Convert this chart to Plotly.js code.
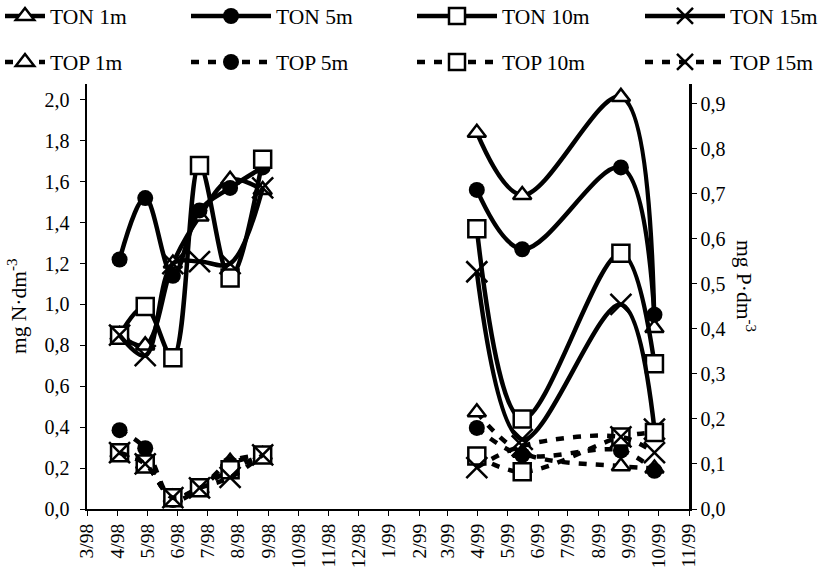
<!DOCTYPE html>
<html>
<head>
<meta charset="utf-8">
<script src="https://cdn.plot.ly/plotly-3.0.1.min.js"></script>
<style>html,body{margin:0;padding:0;background:#fff;}#chart{width:824px;height:568px;}</style>
</head>
<body>
<div id="chart"></div>
<script>
// sampling dates (two campaigns; the null row separates them)
const sampleDates = ['1998-04-03','1998-04-29','1998-05-27','1998-06-23','1998-07-24','1998-08-26',
                     '1998-12-01',
                     '1999-03-31','1999-05-16','1999-08-24','1999-09-27'];

// TON, mg N·dm-3 (left axis)
const ton1m  = [0.85, 0.80, 1.20, 1.43, 1.61, 1.56, null, 1.84, 1.535, 2.015, 0.885];
const ton5m  = [1.22, 1.52, 1.14, 1.46, 1.57, 1.67, null, 1.56, 1.27, 1.67, 0.95];
const ton10m = [0.85, 0.99, 0.74, 1.68, 1.13, 1.71, null, 1.37, 0.44, 1.25, 0.71];
const ton15m = [0.85, 0.75, 1.20, 1.21, 1.20, 1.57, null, 1.16, 0.34, 1.00, 0.39];

// TOP, mg P·dm-3 (right axis)
const top1m  = [0.125, 0.10, 0.025, 0.045, 0.105, 0.12, null, 0.215, 0.125, 0.095, 0.09];
const top5m  = [0.175, 0.135, 0.02, 0.045, 0.10, 0.12, null, 0.18, 0.12, 0.13, 0.085];
const top10m = [0.125, 0.10, 0.025, 0.047, 0.087, 0.12, null, 0.118, 0.083, 0.16, 0.17];
const top15m = [0.125, 0.10, 0.025, 0.047, 0.07, 0.12, null, 0.092, 0.14, 0.16, 0.125];

// month ticks
const tickDates = ['1998-03-01','1998-04-01','1998-05-01','1998-06-01','1998-07-01','1998-08-01','1998-09-01',
  '1998-10-01','1998-11-01','1998-12-01','1999-01-01','1999-02-01','1999-03-01','1999-04-01','1999-05-01',
  '1999-06-01','1999-07-01','1999-08-01','1999-09-01','1999-10-01','1999-11-01'];
const tickLabels = ['3/98','4/98','5/98','6/98','7/98','8/98','9/98','10/98','11/98','12/98','1/99','2/99',
  '3/99','4/99','5/99','6/99','7/99','8/99','9/99','10/99','11/99'];

const FONT = "'Liberation Serif', 'Times New Roman', Times, serif";

const symbols = {
  tri: {symbol: 'triangle-up', size: 16, color: '#fff', line: {color: '#000', width: 2.5}},
  dot: {symbol: 'circle', size: 16, color: '#000', line: {color: '#000', width: 0}},
  sq:  {symbol: 'square', size: 17, color: '#fff', line: {color: '#000', width: 2.5}},
  x:   {symbol: 'x-thin-open', size: 21, color: '#000', line: {color: '#000', width: 2.5}}
};

function tonTrace(name, y, m, lg) {
  return {x: sampleDates, y: y, name: name, type: 'scatter', mode: 'lines+markers',
    line: {color: '#000', width: 4.5, shape: 'spline', smoothing: 1}, marker: m,
    connectgaps: false, yaxis: 'y', legend: lg, cliponaxis: false};
}
function topTrace(name, y, m, lg) {
  return {x: sampleDates, y: y, name: name, type: 'scatter', mode: 'lines+markers',
    line: {color: '#000', width: 4.5, dash: '8px,9px', shape: 'spline', smoothing: 1}, marker: m,
    connectgaps: false, yaxis: 'y2', legend: lg, cliponaxis: false};
}

const data = [
  tonTrace('TON 1m', ton1m, symbols.tri, 'legend'),
  tonTrace('TON 5m', ton5m, symbols.dot, 'legend2'),
  tonTrace('TON 10m', ton10m, symbols.sq, 'legend3'),
  tonTrace('TON 15m', ton15m, symbols.x, 'legend4'),
  topTrace('TOP 1m', top1m, symbols.tri, 'legend5'),
  topTrace('TOP 5m', top5m, symbols.dot, 'legend6'),
  topTrace('TOP 10m', top10m, symbols.sq, 'legend7'),
  topTrace('TOP 15m', top15m, symbols.x, 'legend8')
];

// legend slots (container px): left edge of each symbol sample, sample width, row centres
const colLeft = [0, 186, 412, 640];
const colWidth = [40, 80, 80, 80];
const rowMid = [16, 62];
function legendAt(col, row) {
  return {orientation: 'h', xref: 'container', yref: 'container', x: colLeft[col] / 824,
    xanchor: 'left', y: 1 - rowMid[row] / 568, yanchor: 'middle', itemwidth: colWidth[col],
    font: {family: FONT, size: 21.5, color: '#000'}, bgcolor: 'rgba(0,0,0,0)', borderwidth: 0,
    itemclick: false};
}

const layout = {
  width: 824, height: 568,
  margin: {l: 87, r: 135, t: 84, b: 59},
  paper_bgcolor: '#fff', plot_bgcolor: '#fff',
  separators: ', ',
  font: {family: FONT, size: 20, color: '#000'},
  showlegend: true,
  legend: legendAt(0, 0), legend2: legendAt(1, 0), legend3: legendAt(2, 0), legend4: legendAt(3, 0),
  legend5: legendAt(0, 1), legend6: legendAt(1, 1), legend7: legendAt(2, 1), legend8: legendAt(3, 1),
  xaxis: {type: 'date', range: ['1998-03-01', '1999-11-01'], tickmode: 'array', tickvals: tickDates,
    ticktext: tickLabels, tickangle: -90, ticks: 'outside', ticklen: 5, tickwidth: 1, tickcolor: '#000',
    showline: true, linecolor: '#000', linewidth: 2, showgrid: false, zeroline: false,
    tickfont: {family: FONT, size: 19.5}},
  xaxis2: {type: 'date', overlaying: 'x', anchor: 'y', range: ['1998-03-01', '1999-11-01'], tickmode: 'array',
    tickvals: tickDates, showticklabels: false, ticks: 'inside', ticklen: 5, tickwidth: 1, tickcolor: '#000',
    showline: false, showgrid: false, zeroline: false},
  yaxis: {range: [0, 2.078], dtick: 0.2, tick0: 0, tickformat: '.1f', ticks: 'outside', ticklen: 5,
    tickwidth: 1, tickcolor: '#000', showline: true, linecolor: '#000', linewidth: 2.5, showgrid: false,
    zeroline: false, tickfont: {family: FONT, size: 20}, ticklabelstandoff: 6},
  yaxis2: {overlaying: 'y', side: 'right', range: [0, 0.944], dtick: 0.1, tick0: 0, tickformat: '.1f',
    ticks: 'outside', ticklen: 5, tickwidth: 1, tickcolor: '#000', showline: true, linecolor: '#000',
    linewidth: 2.5, showgrid: false, zeroline: false, tickfont: {family: FONT, size: 20}},
  annotations: [
    {xref: 'paper', yref: 'paper', x: (17 - 87) / 602, y: (509 - 306) / 425, text: 'mg N·dm<sup>-3</sup>',
      textangle: -90, showarrow: false, font: {family: FONT, size: 21.5}, xanchor: 'center', yanchor: 'middle'},
    {xref: 'paper', yref: 'paper', x: (746 - 87) / 602, y: (509 - 286) / 425, text: 'mg P·dm<sup>-3</sup>',
      textangle: 90, showarrow: false, font: {family: FONT, size: 21.5}, xanchor: 'center', yanchor: 'middle'}
  ]
};

Plotly.newPlot('chart', data, layout, {staticPlot: true});
</script>
</body>
</html>
